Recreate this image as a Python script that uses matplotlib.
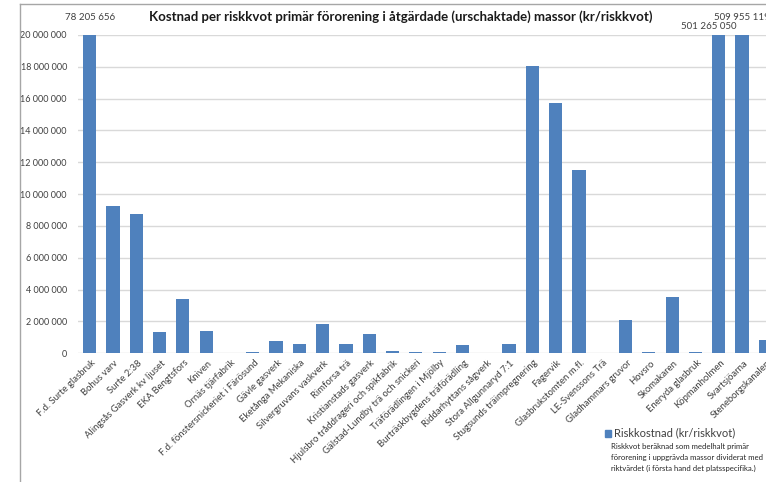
import matplotlib.pyplot as plt
import matplotlib.transforms as mtransforms
from matplotlib.lines import Line2D
from matplotlib.ticker import FuncFormatter, MultipleLocator

plt.rcParams['font.family'] = ['Lato', 'DejaVu Sans']

sites = ["F.d. Surte glasbruk", "Bohus varv", "Surte 2:38",
         "Alingsås Gasverk kv ljuset", "EKA Bengtsfors", "Kniven",
         "Ornäs tjärfabrik", "F.d. fönstersnickeriet i Färösund",
         "Gävle gasverk", "Eketånga Mekaniska", "Silvergruvans vaskverk",
         "Rimforsa trä", "Kristianstads gasverk",
         "Hjulsbro tråddrageri och spikfabrik",
         "Gälstad-Lundby trä och snickeri", "Träförädlingen i Mjölby",
         "Burträskbygdens träförädling", "Riddarhyttans sågverk",
         "Stora Allgunnaryd 7:1", "Stugsunds träimpregnering", "Fagervik",
         "Glasbrukstomten m.fl.", "LE-Svenssons Trä", "Gladhammars gruvor",
         "Hovsro", "Skomakaren", "Eneryda glasbruk", "Köpmanholmen",
         "Svartsjöarna", "Steneborgskanalen"]
cost = [78205656, 9260000, 8740000, 1330000, 3390000, 1430000,
        40000, 60000, 800000, 610000, 1850000, 590000, 1220000,
        170000, 110000, 110000, 500000, 0, 570000, 18040000,
        15730000, 11540000, 20000, 2080000, 80000, 3560000,
        100000, 501265050, 509955119, 840000]

# labels for bars that go off the top of the axis
big_labels = {0: "78 205 656", 27: "501 265 050", 28: "509 955 119"}

fig = plt.figure(figsize=(7.66, 4.82), dpi=100)
ax = fig.add_axes([78/766, 128.7/482, 699/766, 318.3/482])

x = range(len(sites))
ax.bar(x, cost, width=0.57, color="#4F81BD", zorder=3)
ax.set_xlim(-0.5, len(sites) - 0.5)
ax.set_ylim(0, 20000000)
ax.yaxis.set_major_locator(MultipleLocator(2000000))
ax.yaxis.set_major_formatter(FuncFormatter(lambda v, p: f"{int(v):,}".replace(",", " ")))
ax.grid(axis="y", color="#D9D9D9", linewidth=1, zorder=0)
for s in ax.spines.values():
    s.set_visible(False)
ax.tick_params(axis="both", length=0, colors="#404040")
ax.tick_params(axis="y", labelsize=6.5, pad=8)
ax.set_xticks(list(x))
ax.set_xticklabels(sites, rotation=44, ha="right", va="center",
                   rotation_mode="anchor", fontsize=6.8)
ax.tick_params(axis="x", pad=6)
shift = mtransforms.ScaledTranslation(3/72, 0, fig.dpi_scale_trans)
for lab in ax.get_xticklabels():
    lab.set_transform(lab.get_transform() + shift)

offsets = {0: (0, 9), 27: (-7, 3), 28: (0, 9)}
for i, txt in big_labels.items():
    ax.annotate(txt, (i, 20000000), xytext=offsets[i], textcoords="offset points",
                ha="center", va="bottom", fontsize=7, color="#404040",
                annotation_clip=False)

fig.text(401/766, 1 - 17/482, "Kostnad per riskkvot primär förorening i åtgärdade "
         "(urschaktade) massor (kr/riskkvot)", ha="center", va="center",
         fontsize=9.5, fontweight="bold", color="#1a1a1a")

# legend
fig.patches.append(plt.Rectangle((605/766, 1 - 437/482), 6/766, 7/482,
                                 transform=fig.transFigure, color="#4F81BD"))
fig.text(614/766, 1 - 433/482, "Riskkostnad (kr/riskkvot)", ha="left",
         va="center", fontsize=8, color="#404040")
fig.text(611/766, 1 - 443/482,
         "Riskkvot beräknad som medelhalt primär\n"
         "förorening i uppgrävda massor dividerat med\n"
         "riktvärdet (i första hand det platsspecifika.)",
         ha="left", va="top", fontsize=5.6, color="#262626", linespacing=1.65)

# chart frame
fig.lines.append(Line2D([19.5/766, 19.5/766], [0, 1 - 4/482],
                        transform=fig.transFigure, color="#A6A6A6", lw=1))
fig.lines.append(Line2D([19.5/766, 1], [1 - 4/482, 1 - 4/482],
                        transform=fig.transFigure, color="#A6A6A6", lw=1))

fig.savefig("out.png", dpi=100)
